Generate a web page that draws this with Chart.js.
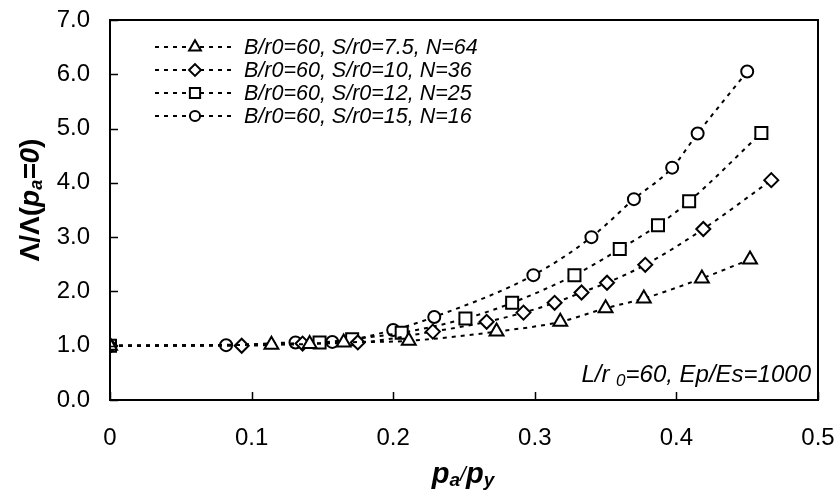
<!DOCTYPE html>
<html>
<head>
<meta charset="utf-8">
<script src="https://cdn.jsdelivr.net/npm/chart.js@4.4.1/dist/chart.umd.min.js"></script>
<style>
  html, body { margin: 0; padding: 0; background: #fff; }
  #wrap { width: 839px; height: 496px; }
</style>
</head>
<body>
<div id="wrap"><canvas id="chart1" width="839" height="496"></canvas></div>
<script>
// values
const seriesLabels = [
  "B/r0=60, S/r0=7.5, N=64",
  "B/r0=60, S/r0=10, N=36",
  "B/r0=60, S/r0=12, N=25",
  "B/r0=60, S/r0=15, N=16",
];
const markers = ["triangle", "rectRot", "rect", "circle"];

const triX = [0, 0.114, 0.141, 0.165, 0.211, 0.273, 0.318, 0.350, 0.377, 0.418, 0.452];
const triY = [1.0, 1.02, 1.03, 1.06, 1.09, 1.26, 1.44, 1.69, 1.87, 2.24, 2.59];

const diaX = [0, 0.093, 0.136, 0.175, 0.228, 0.266, 0.292, 0.314, 0.333, 0.351, 0.378, 0.419, 0.467];
const diaY = [1.0, 1.0, 1.04, 1.06, 1.26, 1.44, 1.61, 1.79, 1.98, 2.16, 2.49, 3.15, 4.05];

const sqX = [0, 0.148, 0.171, 0.206, 0.251, 0.284, 0.328, 0.360, 0.387, 0.409, 0.460];
const sqY = [1.0, 1.06, 1.12, 1.24, 1.50, 1.79, 2.30, 2.78, 3.22, 3.66, 4.92];

const cirX = [0, 0.082, 0.131, 0.157, 0.200, 0.229, 0.299, 0.340, 0.370, 0.397, 0.415, 0.450];
const cirY = [1.0, 1.01, 1.06, 1.07, 1.29, 1.53, 2.30, 3.00, 3.70, 4.28, 4.91, 6.05];

const xTicks = [0, 0.1, 0.2, 0.3, 0.4, 0.5];
const yTicks = [0, 1, 2, 3, 4, 5, 6, 7];

const radii = { triangle: 8, rectRot: 7, rect: 8.5, circle: 6 };
const FONT = "'Liberation Sans', Arial, sans-serif";

function pts(xs, ys) {
  return xs.map((v, i) => ({ x: v, y: ys[i] }));
}

const allX = [triX, diaX, sqX, cirX];
const allY = [triY, diaY, sqY, cirY];

const datasets = seriesLabels.map((lab, i) => ({
  label: lab,
  data: pts(allX[i], allY[i]),
  borderColor: "#000",
  borderWidth: 2,
  borderDash: [4, 5],
  cubicInterpolationMode: "monotone",
  pointStyle: markers[i],
  pointRadius: radii[markers[i]],
  pointBorderWidth: 2,
  pointBackgroundColor: "#fff",
  pointBorderColor: "#000",
  showLine: true,
  fill: false,
}));

// draws text pieces [text, font, yShift] in a row starting at x
function drawRun(ctx, parts, x, y) {
  parts.forEach((p) => {
    ctx.font = p[1];
    ctx.fillText(p[0], x, y + p[2]);
    x += ctx.measureText(p[0]).width;
  });
}
function runWidth(ctx, parts) {
  let w = 0;
  parts.forEach((p) => { ctx.font = p[1]; w += ctx.measureText(p[0]).width; });
  return w;
}

// box, inward ticks, legend, titles and note
const overlay = {
  id: "overlay",
  afterDraw(chart) {
    const ctx = chart.ctx;
    const a = chart.chartArea;
    const x = chart.scales.x, y = chart.scales.y;
    ctx.save();
    ctx.strokeStyle = "#000";
    ctx.fillStyle = "#000";
    ctx.lineWidth = 2;
    ctx.strokeRect(a.left, a.top, a.right - a.left, a.bottom - a.top);

    ctx.lineWidth = 1.5;
    ctx.beginPath();
    xTicks.forEach((t) => {
      const px = Math.round(x.getPixelForValue(t)) + 0.5;
      ctx.moveTo(px, a.bottom);
      ctx.lineTo(px, a.bottom - 8);
    });
    yTicks.forEach((t) => {
      const py = Math.round(y.getPixelForValue(t)) + 0.5;
      ctx.moveTo(a.left, py);
      ctx.lineTo(a.left + 8, py);
    });
    ctx.stroke();

    // legend
    const rows = [47, 70, 93, 116];
    ctx.textBaseline = "middle";
    ctx.textAlign = "left";
    seriesLabels.forEach((lab, i) => {
      const ry = rows[i];
      ctx.setLineDash([4, 5]);
      ctx.lineWidth = 2;
      ctx.beginPath();
      ctx.moveTo(155, ry);
      ctx.lineTo(232, ry);
      ctx.stroke();
      ctx.setLineDash([]);
      ctx.fillStyle = "#fff";
      Chart.helpers.drawPoint(ctx, {
        pointStyle: markers[i],
        radius: radii[markers[i]] * 0.85,
        borderWidth: 2,
      }, 195, ry);
      ctx.fillStyle = "#000";
      ctx.font = "italic 21.5px " + FONT;
      ctx.fillText(lab, 244, ry + 1);
    });

    // note L/r0=60, Ep/Es=1000
    const note = [
      ["L/r ", "italic 24px " + FONT, 0],
      ["0", "italic 17px " + FONT, 6],
      ["=60, Ep/Es=1000", "italic 24px " + FONT, 0],
    ];
    drawRun(ctx, note, a.right - 7 - runWidth(ctx, note), 375);

    // x title p_a/p_y
    const xt = [
      ["p", "bold italic 29px " + FONT, 0],
      ["a", "bold italic 19px " + FONT, 6],
      ["/", "italic 21px " + FONT, 0],
      ["p", "bold italic 29px " + FONT, 0],
      ["y", "bold italic 19px " + FONT, 6],
    ];
    drawRun(ctx, xt, 463 - runWidth(ctx, xt) / 2, 475);

    // y title Λ/Λ(p_a=0)
    ctx.save();
    ctx.translate(31, 200);
    ctx.rotate(-Math.PI / 2);
    const yt = [
      ["Λ/Λ(", "bold 28px " + FONT, 0],
      ["p", "bold italic 28px " + FONT, 0],
      ["a", "bold italic 18px " + FONT, 6],
      ["=0", "bold italic 28px " + FONT, 0],
      [")", "bold 28px " + FONT, 0],
    ];
    drawRun(ctx, yt, -runWidth(ctx, yt) / 2, 0);
    ctx.restore();

    ctx.restore();
  },
};

new Chart(document.getElementById("chart1").getContext("2d"), {
  type: "scatter",
  data: { datasets: datasets },
  options: {
    responsive: false,
    animation: false,
    layout: { padding: { left: 0, top: 20, right: 21, bottom: 0 } },
    plugins: {
      legend: { display: false },
      tooltip: { enabled: false },
    },
    scales: {
      x: {
        type: "linear",
        min: 0,
        max: 0.5,
        afterFit: (s) => { s.height = 96; s.paddingLeft = 0; s.paddingRight = 0; },
        afterBuildTicks: (s) => { s.ticks = xTicks.map((v) => ({ value: v })); },
        grid: { display: false, drawTicks: false },
        border: { display: false },
        ticks: {
          padding: 24,
          color: "#000",
          font: { family: FONT, size: 24 },
          callback: (v) => (v === 0 ? "0" : v.toFixed(1)),
        },
      },
      y: {
        type: "linear",
        min: 0,
        max: 7,
        afterFit: (s) => { s.width = 110; s.paddingTop = 0; s.paddingBottom = 0; },
        afterBuildTicks: (s) => { s.ticks = yTicks.map((v) => ({ value: v })); },
        grid: { display: false, drawTicks: false },
        border: { display: false },
        ticks: {
          padding: 20,
          color: "#000",
          font: { family: FONT, size: 24 },
          callback: (v) => v.toFixed(1),
        },
      },
    },
  },
  plugins: [overlay],
});
</script>
</body>
</html>
